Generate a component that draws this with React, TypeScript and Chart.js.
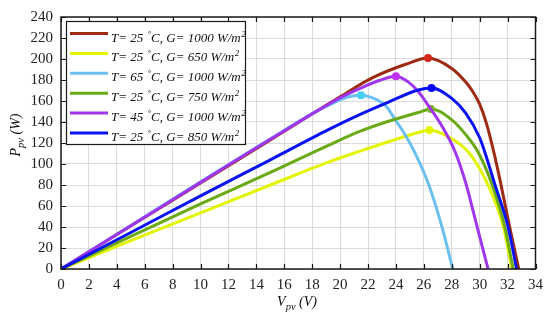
import React, { useEffect, useRef } from "react";
import { Chart, registerables } from "chart.js";
Chart.register(...registerables);

const xTicks = [0, 2, 4, 6, 8, 10, 12, 14, 16, 18, 20, 22, 24, 26, 28, 30, 32, 34];
const yTicks = [0, 20, 40, 60, 80, 100, 120, 140, 160, 180, 200, 220, 240];

const temps = [25, 25, 65, 25, 45, 25];
const irradiances = [1000, 650, 1000, 750, 1000, 850];

const vRed = [0, 5, 10, 15, 20, 22.3, 24.7, 26.3, 28, 29, 29.5, 30, 30.5, 31, 31.5, 32.1, 32.8];
const pRed = [0, 41, 82, 123, 164, 182, 195, 201, 191, 178, 169, 157, 138, 112, 82, 43, 0];

const vYellow = [0, 5, 10, 15, 19.2, 21.6, 23.3, 25.6, 26.4, 28, 29, 29.5, 30.6, 31.7, 32.3];
const pYellow = [0, 27, 53.5, 80, 102, 113, 120.5, 130, 132.3, 124, 114, 106, 80, 40, 0];

const vCyan = [0, 5, 10, 15, 18, 19.5, 20.6, 21.5, 22.5, 23.3, 24, 24.7, 25.35, 26.36, 27.3, 28.07];
const pCyan = [0, 41.5, 83, 124, 148, 158, 164, 165.5, 162, 155, 141, 127, 111, 80, 40, 0];

const vGreen = [0, 5, 10, 15, 19.2, 21.4, 23.3, 25.6, 26.5, 28, 29, 29.9, 30.9, 31.8, 32.4];
const pGreen = [0, 31, 62, 92, 118, 131, 140, 149, 152.5, 142, 128, 111, 80, 40, 0];

const vPurple = [0, 5, 10, 15, 20, 21.6, 22.8, 24, 24.9, 25.6, 26.2, 27.3, 28.26, 29, 29.8, 30.6];
const pPurple = [0, 41.2, 82.5, 123.5, 163, 173, 179.5, 183.6, 178, 169, 158, 136, 111, 82, 41, 0];

const vBlue = [0, 5, 10, 15, 19.2, 21.4, 23.3, 25.6, 26.55, 28, 29, 30, 30.4, 31.1, 32, 32.65];
const pBlue = [0, 34.8, 69.6, 104, 133, 147, 158, 170.5, 172.4, 162.5, 148.5, 125, 110, 80, 42, 0];

const seriesV = [vRed, vYellow, vCyan, vGreen, vPurple, vBlue];
const seriesP = [pRed, pYellow, pCyan, pGreen, pPurple, pBlue];
const lineColors = ["#9e2a14", "#e3f400", "#6cc0f0", "#6aaa14", "#a035ee", "#0a14f0"];
const markerColors = ["#d42a1e", "#e3f400", "#46d0f5", "#78b41e", "#c030f0", "#0000ff"];

const FONT = "'Liberation Serif', 'Times New Roman', serif";

const decor = {
  id: "decor",
  afterDraw(chart: any) {
    const ctx = chart.ctx as CanvasRenderingContext2D;
    const a = chart.chartArea;
    const xs = chart.scales.x;
    const ys = chart.scales.y;
    ctx.save();
    // frame
    ctx.strokeStyle = "#1a1a1a";
    ctx.lineWidth = 1.5;
    ctx.strokeRect(a.left, a.top, a.right - a.left, a.bottom - a.top);
    // inner ticks
    ctx.lineWidth = 1.2;
    ctx.beginPath();
    for (const t of xTicks) {
      const px = Math.round(xs.getPixelForValue(t)) + 0.5;
      ctx.moveTo(px, a.bottom);
      ctx.lineTo(px, a.bottom - 5);
      ctx.moveTo(px, a.top);
      ctx.lineTo(px, a.top + 5);
    }
    for (const t of yTicks) {
      const py = Math.round(ys.getPixelForValue(t)) + 0.5;
      ctx.moveTo(a.left, py);
      ctx.lineTo(a.left + 5, py);
      ctx.moveTo(a.right, py);
      ctx.lineTo(a.right - 5, py);
    }
    ctx.stroke();

    // legend
    const lx = a.left + 5;
    const ly = a.top + 4;
    const lw = 179;
    const lh = 123;
    ctx.fillStyle = "#ffffff";
    ctx.fillRect(lx, ly, lw, lh);
    ctx.strokeStyle = "#1a1a1a";
    ctx.lineWidth = 1.2;
    ctx.strokeRect(lx + 0.5, ly + 0.5, lw, lh);
    for (let i = 0; i < seriesV.length; i++) {
      const yLine = ly + 12.5 + 19.9 * i;
      ctx.strokeStyle = lineColors[i];
      ctx.lineWidth = 3;
      ctx.beginPath();
      ctx.moveTo(lx + 4, yLine);
      ctx.lineTo(lx + 42, yLine);
      ctx.stroke();
      const base = yLine + 8;
      let x = lx + 45;
      ctx.fillStyle = "#111";
      ctx.textBaseline = "alphabetic";
      ctx.textAlign = "left";
      ctx.font = `italic 13px ${FONT}`;
      const s1 = `T= ${temps[i]} `;
      ctx.fillText(s1, x, base);
      x += ctx.measureText(s1).width + 1;
      ctx.font = `italic 9px ${FONT}`;
      ctx.fillText("°", x, base - 5);
      x += ctx.measureText("°").width;
      ctx.font = `italic 13px ${FONT}`;
      const s2 = `C, G= ${irradiances[i]} W/m`;
      ctx.fillText(s2, x, base);
      x += ctx.measureText(s2).width;
      ctx.font = `italic 9px ${FONT}`;
      ctx.fillText("2", x + 0.5, base - 5);
    }

    // axis titles
    ctx.fillStyle = "#111";
    ctx.textBaseline = "alphabetic";
    const main = `italic 14px ${FONT}`;
    const sub = `italic 10.5px ${FONT}`;
    // x title
    {
      ctx.font = main;
      const w1 = ctx.measureText("V").width;
      const w3 = ctx.measureText(" (V)").width;
      ctx.font = sub;
      const w2 = ctx.measureText("pv").width;
      const total = w1 + w2 + w3;
      let x = 297 - total / 2;
      const b = 306;
      ctx.textAlign = "left";
      ctx.font = main;
      ctx.fillText("V", x, b);
      x += w1;
      ctx.font = sub;
      ctx.fillText("pv", x, b + 4);
      x += w2;
      ctx.font = main;
      ctx.fillText(" (V)", x, b);
    }
    // y title
    {
      ctx.save();
      ctx.translate(20, 135);
      ctx.rotate(-Math.PI / 2);
      ctx.font = main;
      const w1 = ctx.measureText("P").width;
      const w3 = ctx.measureText(" (W)").width;
      ctx.font = sub;
      const w2 = ctx.measureText("pv").width;
      const total = w1 + w2 + w3;
      let x = -total / 2;
      ctx.textAlign = "left";
      ctx.font = main;
      ctx.fillText("P", x, 0);
      x += w1;
      ctx.font = sub;
      ctx.fillText("pv", x, 4);
      x += w2;
      ctx.font = main;
      ctx.fillText(" (W)", x, 0);
      ctx.restore();
    }
    ctx.restore();
  },
};

export default function App() {
  const ref = useRef<HTMLCanvasElement | null>(null);
  useEffect(() => {
    if (!ref.current) return;
    const datasets = seriesV.map((vs, i) => {
      const ps = seriesP[i];
      let peak = 0;
      ps.forEach((p, j) => {
        if (p > ps[peak]) peak = j;
      });
      return {
        label: `T= ${temps[i]} °C, G= ${irradiances[i]} W/m²`,
        data: vs.map((v, j) => ({ x: v, y: ps[j] })),
        borderColor: lineColors[i],
        backgroundColor: markerColors[i],
        borderWidth: 3,
        cubicInterpolationMode: "monotone" as const,
        pointRadius: (c: any) => (c.dataIndex === peak ? 4 : 0),
        pointHoverRadius: 0,
        pointBackgroundColor: markerColors[i],
        pointBorderWidth: 0,
        fill: false,
        order: seriesV.length - i,
        clip: 0,
      };
    });
    const chart = new Chart(ref.current, {
      type: "line",
      data: { datasets },
      options: {
        responsive: false,
        animation: false,
        layout: { padding: { left: 0, right: 13, top: 12, bottom: 0 } },
        plugins: { legend: { display: false }, tooltip: { enabled: false } },
        scales: {
          x: {
            type: "linear",
            min: 0,
            max: 34,
            afterBuildTicks: (s: any) => {
              s.ticks = xTicks.map((v) => ({ value: v }));
            },
            afterFit: (s: any) => {
              s.height = 53;
            },
            grid: { color: "#dcdcdc", lineWidth: 1, drawTicks: false },
            border: { display: false },
            ticks: {
              padding: 7,
              color: "#222",
              font: { family: FONT, size: 15 },
              maxRotation: 0,
              autoSkip: false,
            },
          },
          y: {
            type: "linear",
            min: 0,
            max: 240,
            afterBuildTicks: (s: any) => {
              s.ticks = yTicks.map((v) => ({ value: v }));
            },
            afterFit: (s: any) => {
              s.width = 61;
            },
            grid: { color: "#dcdcdc", lineWidth: 1, drawTicks: false },
            border: { display: false },
            ticks: {
              padding: 8,
              color: "#222",
              font: { family: FONT, size: 15 },
              autoSkip: false,
            },
          },
        },
      },
      plugins: [decor],
    });
    return () => chart.destroy();
  }, []);
  return (
    <div style={{ position: "fixed", left: 0, top: 0, width: 550, height: 322, background: "#fff" }}>
      <canvas ref={ref} width={550} height={322} style={{ display: "block", width: 550, height: 322 }} />
    </div>
  );
}
